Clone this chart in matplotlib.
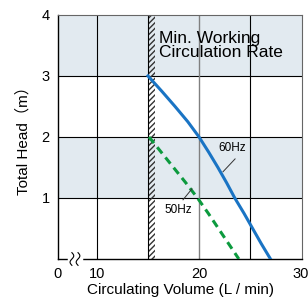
import numpy as np
import matplotlib.pyplot as plt
from matplotlib.transforms import blended_transform_factory

plt.rcParams['font.family'] = ['Liberation Sans', 'Noto Sans CJK JP', 'DejaVu Sans']

# curves (flow L/min, head m)
flow_60 = [15.0, 16.35, 17.65, 18.9, 20.0, 20.95, 21.85, 22.7, 23.5, 24.4, 25.25, 26.1, 27.0]
head_60 = [3.0, 2.75, 2.5, 2.25, 2.0, 1.75, 1.5, 1.25, 1.0, 0.75, 0.5, 0.25, 0.0]
flow_50 = [15.1, 16.3, 17.5, 18.7, 19.85, 20.9, 21.9, 22.9, 23.9]
head_50 = [2.0, 1.75, 1.5, 1.25, 1.0, 0.75, 0.5, 0.25, 0.0]

x_ticks = [10, 20, 30]
x_labels = ["0", "10", "20", "30"]
y_ticks = [1, 2, 3, 4]
min_rate = (15.0, 15.7)

BLUE = '#1a74c4'
GREEN = '#0c9a3e'
SHADE = '#e2eaf0'
XMIN, XMAX = 6.18, 30.1

fig = plt.figure(figsize=(3.08, 3.04), dpi=100)
ax = fig.add_axes([0.188, 0.148, 0.793, 0.803])
ax.set_xlim(XMIN, XMAX)
ax.set_ylim(0, 4)

# shaded rows
for lo, hi in [(1, 2), (3, 4)]:
    ax.axhspan(lo, hi, color=SHADE, lw=0, zorder=0)

# grid
for y in [1, 2, 3]:
    ax.axhline(y, color='black', lw=0.8, zorder=1)
ax.axvline(10, color='black', lw=0.8, zorder=1)
ax.axvline(20, color='#808080', lw=1.0, zorder=1)
ax.axvline(25, color='black', lw=0.8, zorder=1)

# min working rate band
ax.fill_between(min_rate, 0, 4, facecolor='none', edgecolor='#333333',
                hatch='//////', lw=0, zorder=2)
ax.axvline(min_rate[0], color='black', lw=0.8, zorder=2)

ax.plot(flow_60, head_60, color=BLUE, lw=2.2, zorder=3)
ax.plot(flow_50, head_50, color=GREEN, lw=2.2, ls=(0, (2.6, 1.7)), zorder=3)

# labels with leader lines
ax.plot([23.53, 22.35], [1.64, 1.43], color='#333333', lw=0.7, zorder=4)
ax.text(23.2, 1.82, "60Hz", fontsize=8.5, ha='center', va='center', zorder=4)
ax.plot([19.31, 18.43], [1.15, 0.97], color='#333333', lw=0.7, zorder=4)
ax.text(17.94, 0.80, "50Hz", fontsize=8.5, ha='center', va='center', zorder=4)

ax.text(16.05, 3.74, "Min. Working\nCirculation Rate", fontsize=12.5,
        ha='left', va='top', linespacing=0.95, zorder=4)

# axes styling
ax.set_xticks([XMIN] + x_ticks)
ax.set_xticklabels(x_labels)
ax.set_yticks(y_ticks)
ax.set_yticklabels([str(v) for v in y_ticks])
ax.tick_params(length=0, labelsize=10.5, pad=6)
for s in ['left', 'bottom']:
    ax.spines[s].set_color('black')
    ax.spines[s].set_linewidth(1.0)
for s in ['top', 'right']:
    ax.spines[s].set_color('#666666')
    ax.spines[s].set_linewidth(0.8)

ax.set_xlabel("Circulating Volume (L / min)", fontsize=11, labelpad=1)
ax.set_ylabel("Total Head\uff08m\uff09", fontsize=11, labelpad=8)

# broken axis squiggle
tr = blended_transform_factory(ax.transData, ax.transAxes)
t = np.linspace(-1, 1, 40)
ax.plot([7.3, 8.4], [0, 0], color='white', lw=2.5,
        transform=tr, clip_on=False, zorder=5)
for x0 in [7.55, 8.15]:
    ax.plot(x0 + 0.18 * np.sin(np.pi * t), 0.026 * t, color='black', lw=0.8,
            transform=tr, clip_on=False, zorder=6)

fig.savefig('out.png', dpi=100)
